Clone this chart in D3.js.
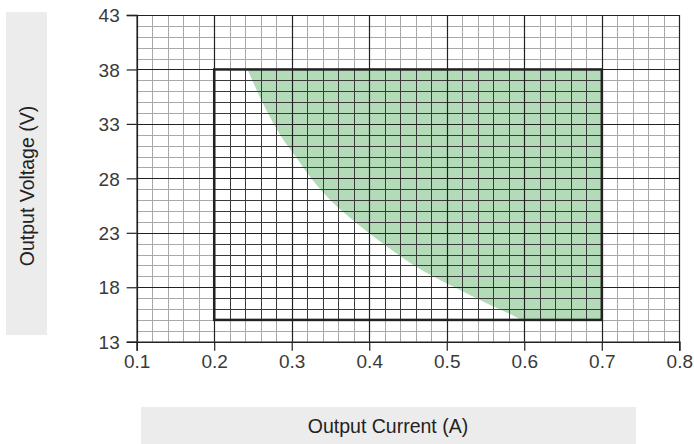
<!DOCTYPE html>
<html>
<head>
<meta charset="utf-8">
<script src="https://cdn.jsdelivr.net/npm/d3@7"></script>
<style>
  body { margin: 0; background: #fff; }
  svg { display: block; font-family: "Liberation Sans", Arial, sans-serif; }
</style>
</head>
<body>
<div id="chart"></div>
<script>
// tick values
var xTicks = [0.1, 0.2, 0.3, 0.4, 0.5, 0.6, 0.7, 0.8];
var yTicks = [13, 18, 23, 28, 33, 38, 43];

// operating window (current A, voltage V)
var windowCurrent = [0.2, 0.7];
var windowVoltage = [15, 38];

// boundary of the green region
var curveCurrent = [0.243, 0.262, 0.285, 0.305, 0.325, 0.350, 0.382, 0.418, 0.458, 0.510, 0.552, 0.583, 0.600, 0.700];
var curveVoltage = [38, 35, 32, 30, 28, 26, 24, 22, 20, 18, 16.5, 15.5, 15, 15];

var W = 694, H = 444;

var x = d3.scaleLinear().domain([0.1, 0.8]).range([136.7, 679.3]);
var y = d3.scaleLinear().domain([13, 43]).range([341.7, 15]);

var svg = d3.select("#chart").append("svg")
    .attr("width", W)
    .attr("height", H);

// label boxes
svg.append("rect")
    .attr("x", 6).attr("y", 12).attr("width", 41).attr("height", 323)
    .attr("fill", "#ececec");
svg.append("rect")
    .attr("x", 141).attr("y", 407).attr("width", 495).attr("height", 37)
    .attr("fill", "#ececec");

svg.append("text")
    .attr("transform", "translate(34,186)rotate(-90)")
    .attr("text-anchor", "middle")
    .style("font-size", "19.5px")
    .style("fill", "#222")
    .text("Output Voltage (V)");

svg.append("text")
    .attr("x", 388).attr("y", 433)
    .attr("text-anchor", "middle")
    .style("font-size", "19.5px")
    .style("fill", "#222")
    .text("Output Current (A)");

// green region
var pts = curveCurrent.map(function(c, i) { return { c: c, v: curveVoltage[i] }; });
var area = d3.area()
    .x(function(d) { return x(d.c); })
    .y0(function(d) { return y(d.v); })
    .y1(y(windowVoltage[1]))
    .curve(d3.curveMonotoneX);

svg.append("path")
    .attr("d", area(pts))
    .attr("fill", "#b3dbb8");

// minor grid
var minorX = d3.range(0, 36).map(function(i) { return 0.1 + i * 0.02; });
var minorY = d3.range(13, 44);

function drawGrid(g, color) {
    g.selectAll(".vx").data(minorX).enter().append("line")
        .attr("x1", function(d) { return Math.round(x(d)) + 0.5; })
        .attr("x2", function(d) { return Math.round(x(d)) + 0.5; })
        .attr("y1", y(13)).attr("y2", y(43))
        .attr("stroke", color).attr("stroke-width", 1);
    g.selectAll(".hy").data(minorY).enter().append("line")
        .attr("y1", function(d) { return Math.round(y(d)) + 0.5; })
        .attr("y2", function(d) { return Math.round(y(d)) + 0.5; })
        .attr("x1", x(0.1)).attr("x2", x(0.8))
        .attr("stroke", color).attr("stroke-width", 1);
}

drawGrid(svg.append("g"), "#a8a8a8");

svg.append("clipPath").attr("id", "win")
    .append("rect")
    .attr("x", x(windowCurrent[0])).attr("y", y(windowVoltage[1]))
    .attr("width", x(windowCurrent[1]) - x(windowCurrent[0]))
    .attr("height", y(windowVoltage[0]) - y(windowVoltage[1]));

drawGrid(svg.append("g").attr("clip-path", "url(#win)"), "#3a3a3a");

// major grid
svg.selectAll(".mx").data(xTicks).enter().append("line")
    .attr("x1", function(d) { return Math.round(x(d)) + 0.5; })
    .attr("x2", function(d) { return Math.round(x(d)) + 0.5; })
    .attr("y1", y(13)).attr("y2", y(43))
    .attr("stroke", "#222").attr("stroke-width", 1.2);
svg.selectAll(".my").data(yTicks).enter().append("line")
    .attr("y1", function(d) { return Math.round(y(d)) + 0.5; })
    .attr("y2", function(d) { return Math.round(y(d)) + 0.5; })
    .attr("x1", x(0.1)).attr("x2", x(0.8))
    .attr("stroke", "#222").attr("stroke-width", 1.2);

// operating window outline
svg.append("rect")
    .attr("x", x(windowCurrent[0])).attr("y", y(windowVoltage[1]))
    .attr("width", x(windowCurrent[1]) - x(windowCurrent[0]))
    .attr("height", y(windowVoltage[0]) - y(windowVoltage[1]))
    .attr("fill", "none")
    .attr("stroke", "#222").attr("stroke-width", 2.5);

// axes
var xAxis = d3.axisBottom(x).tickValues(xTicks).tickSize(9).tickPadding(4)
    .tickFormat(d3.format(".1f"));
var yAxis = d3.axisLeft(y).tickValues(yTicks).tickSize(10).tickPadding(7)
    .tickFormat(d3.format("d"));

var gx = svg.append("g").attr("transform", "translate(0," + y(13) + ")").call(xAxis);
var gy = svg.append("g").attr("transform", "translate(" + x(0.1) + ",0)").call(yAxis);

[gx, gy].forEach(function(g) {
    g.select(".domain").attr("stroke", "#222").attr("stroke-width", 1.5);
    g.selectAll(".tick line").attr("stroke", "#222").attr("stroke-width", 1.2);
    g.selectAll(".tick text")
        .style("font-size", "19px")
        .style("font-family", "'Liberation Sans', Arial, sans-serif")
        .style("fill", "#3a3a3a");
});
gy.selectAll(".tick text").attr("dy", "0.35em");
</script>
</body>
</html>
